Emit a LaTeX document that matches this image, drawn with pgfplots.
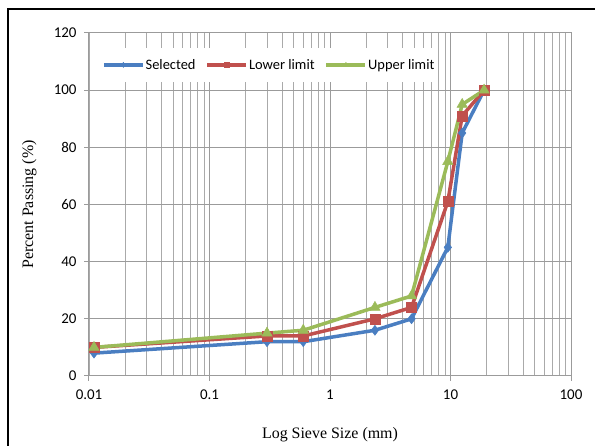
\documentclass[border=0pt]{standalone}
\usepackage{pgfplots}
\pgfplotsset{compat=1.18}
\usepackage{fontspec}
\setmainfont{Liberation Serif}
\newfontfamily\calfont{Carlito}
\definecolor{sel}{RGB}{74,126,193}
\definecolor{low}{RGB}{192,80,77}
\definecolor{upp}{RGB}{155,187,89}
\definecolor{gridc}{RGB}{155,155,155}
\begin{document}
\begin{tikzpicture}[x=1bp,y=1bp]
\useasboundingbox (0,0) rectangle (595,446);
\draw[line width=2.2bp] (8,0) -- (8,437) -- (600,437);
\begin{axis}[at={(89bp,70bp)}, anchor=south west, scale only axis,
  width=482bp, height=343bp,
  xmode=log, xmin=0.01, xmax=100, ymin=0, ymax=120,
  ytick={0,20,...,120},
  xtick={0.01,0.1,1,10,100}, xticklabels={0.01,0.1,1,10,100},
  /pgf/number format/assume math mode=true,
  xmajorgrids, xminorgrids, ymajorgrids,
  major grid style={gridc, line width=1bp},
  minor grid style={gridc!85, line width=0.9bp},
  axis line style={gridc, line width=1bp},
  tick style={gridc, line width=1bp},
  tick align=outside, major tick length=5bp, minor tick length=0bp,
  xtick pos=bottom, ytick pos=left,
  ticklabel style={font=\calfont\fontsize{15}{18}\selectfont, text=black},
  yticklabel style={xshift=-4bp},
  xticklabel style={yshift=-5bp},
  xlabel={Log Sieve Size (mm)}, ylabel={Percent Passing (\%)},
  label style={font=\fontsize{16}{19}\selectfont},
  xlabel style={at={(axis description cs:0.5,-0.172)}, anchor=center},
  ylabel style={at={(axis description cs:-0.124,0.5)}, anchor=center},
  legend style={at={(rel axis cs:0.373,0.907)}, anchor=center, draw=none, fill=white,
    font=\calfont\fontsize{14.5}{16}\selectfont, inner ysep=9bp, inner xsep=3bp,
    nodes={inner xsep=1bp}},
  legend columns=-1,
  legend cell align=left,
  /tikz/every even column/.append style={column sep=9bp},
  legend image code/.code={\draw[mark repeat=2, mark phase=2, mark size=2.5bp] plot coordinates {(0bp,0bp) (19.5bp,0bp) (39bp,0bp)};},
]
\addplot[sel, line width=3.5bp, mark=diamond*, mark size=5bp, mark options={line width=0.5bp}] coordinates {
(0.011,8) (0.3,12) (0.6,12) (2.36,16) (4.75,20) (9.5,45) (12.5,85) (19,100)};
\addlegendentry{Selected}
\addplot[low, line width=3.5bp, mark=square*, mark size=5bp, mark options={line width=0.5bp}] coordinates {
(0.011,10) (0.3,14) (0.6,14) (2.36,20) (4.75,24) (9.5,61) (12.5,91) (19,100)};
\addlegendentry{Lower limit}
\addplot[upp, line width=3.5bp, mark=triangle*, mark size=6bp, mark options={line width=0.5bp}] coordinates {
(0.011,10) (0.3,15) (0.6,16) (2.36,24) (4.75,28) (9.5,75) (12.5,95) (19,100)};
\addlegendentry{Upper limit}
\end{axis}
\end{tikzpicture}
\end{document}
